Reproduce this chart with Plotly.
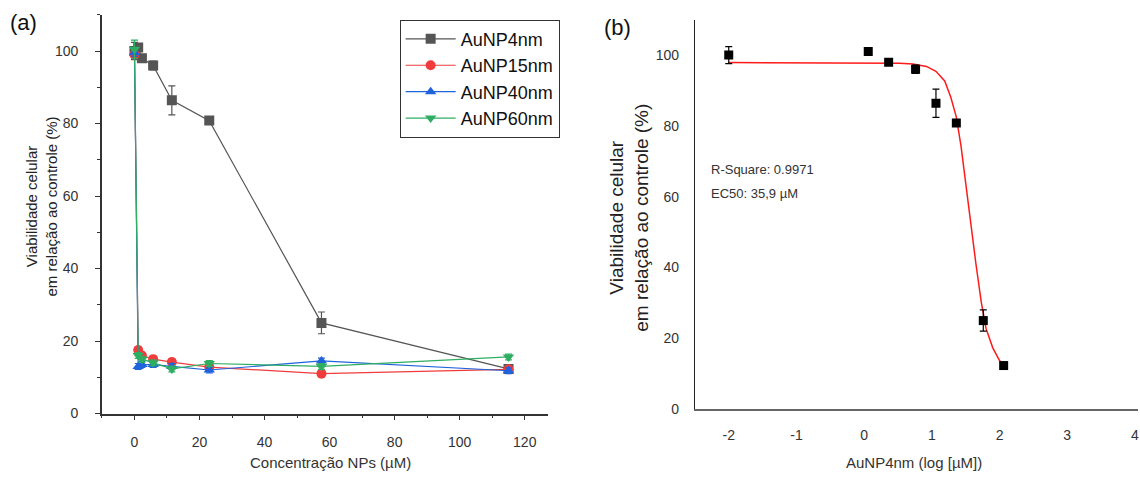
import plotly.graph_objects as go
import numpy as np

# ---------------- data ----------------
conc = [0.01, 1.15, 2.3, 5.75, 11.5, 23, 57.5, 115]          # µM
v4 = [100, 101, 98, 96, 86.4, 80.8, 25, 12.3]
e4 = [2.4, 0.8, 0.8, 1.2, 4.0, 0.8, 3.0, 0.8]
v15 = [99, 17.5, 16, 15, 14.2, 12.8, 11, 12.2]
e15 = [1.0, 0.8, 0.8, 0.8, 0.8, 0.8, 0.8, 0.8]
v40 = [99.5, 13, 13.5, 13.5, 13, 12, 14.5, 11.8]
e40 = [1.0, 0.8, 0.8, 0.8, 0.8, 0.8, 0.8, 0.8]
v60 = [100.5, 16, 15, 14, 12.3, 13.8, 13, 15.6]
e60 = [2.5, 0.8, 0.8, 0.8, 0.8, 0.8, 0.8, 0.8]

series_names = ["AuNP4nm", "AuNP15nm", "AuNP40nm", "AuNP60nm"]

# fitted dose-response curve, x in log[µM]
fit_x = [-2.0, 0.3, 0.52, 0.72, 0.92, 1.06, 1.19, 1.28, 1.36, 1.43, 1.5, 1.58,
         1.65, 1.73, 1.8, 1.9, 2.0, 2.06]
fit_y = [97.9, 97.9, 97.7, 97.5, 96.8, 95.4, 92.7, 88.1, 82.6, 74.4, 63.3, 52.2,
         41.2, 30.2, 22.8, 17.3, 13.7, 12.4]

left_xticks = [0, 20, 40, 60, 80, 100, 120]
right_xticks = [-2, -1, 0, 1, 2, 3, 4]
right_xticklabels = ["-2", "-1", "0", "1", "2", "3", "4"]
yticks = [0, 20, 40, 60, 80, 100]

W, H = 1140, 482
TICKFONT = dict(family="Liberation Sans Narrow, Arial Narrow, Liberation Sans, Arial", size=14, color="#333333")
TXTFONT = "Liberation Sans, Arial"

fig = go.Figure()

styles = [
    dict(color="#555555", symbol="square"),
    dict(color="#f03c3c", symbol="circle"),
    dict(color="#1f63dc", symbol="triangle-up"),
    dict(color="#2fae62", symbol="triangle-down"),
]
vals = [v4, v15, v40, v60]
errs = [e4, e15, e40, e60]
for name, st, v, e in zip(series_names, styles, vals, errs):
    fig.add_trace(go.Scatter(
        x=conc, y=v, name=name, mode="lines+markers",
        line=dict(color=st["color"], width=1.2),
        marker=dict(color=st["color"], symbol=st["symbol"], size=10),
        error_y=dict(type="data", array=e, color=st["color"], thickness=1.2, width=3.5),
        xaxis="x", yaxis="y",
    ))

# right panel
fig.add_trace(go.Scatter(
    x=fit_x, y=fit_y, mode="lines", line=dict(color="#ff1a1a", width=1.5),
    showlegend=False, xaxis="x2", yaxis="y2",
))
fig.add_trace(go.Scatter(
    x=np.log10(conc), y=v4, mode="markers",
    marker=dict(color="black", symbol="square", size=9),
    error_y=dict(type="data", array=e4, color="black", thickness=1.2, width=3.5),
    showlegend=False, xaxis="x2", yaxis="y2",
))

def px_x(p):
    return p / W

def px_y(p):
    return 1 - p / H

def note(text, x, y, size, family=TXTFONT, color="#222", xanchor="center", angle=0):
    return dict(text=text, x=px_x(x), y=px_y(y), xref="paper", yref="paper",
                xanchor=xanchor, yanchor="middle", showarrow=False, textangle=angle,
                font=dict(family=family, size=size, color=color))

fig.update_layout(
    width=W, height=H,
    margin=dict(l=0, r=0, t=0, b=0),
    paper_bgcolor="white", plot_bgcolor="white",
    xaxis=dict(
        domain=[px_x(102), px_x(548)], range=[-10, 127],
        tickvals=left_xticks, ticks="outside", ticklen=5, tickcolor="#333",
        minor=dict(dtick=10, tick0=0, ticks="outside", ticklen=3, tickcolor="#333"),
        showline=True, linecolor="#333", linewidth=1.5, showgrid=False, zeroline=False,
        tickfont=TICKFONT, anchor="y", ticklabelstandoff=10,
    ),
    yaxis=dict(
        domain=[px_y(420.5), px_y(15)], range=[0, 110],
        tickvals=yticks, ticks="outside", ticklen=5, tickcolor="#333",
        minor=dict(dtick=10, tick0=0, ticks="outside", ticklen=3, tickcolor="#333"),
        showline=True, linecolor="#333", linewidth=1.5, showgrid=False, zeroline=False,
        tickfont=TICKFONT, anchor="x", ticklabelstandoff=14,
    ),
    xaxis2=dict(
        domain=[px_x(695.5), px_x(1139)], range=[-2.5, 4.045],
        tickvals=right_xticks, ticktext=right_xticklabels, ticks="",
        ticklabeloverflow="allow",
        showline=True, linecolor="#666", linewidth=2, showgrid=False, zeroline=False,
        tickfont=TICKFONT, anchor="y2", ticklabelstandoff=12,
    ),
    yaxis2=dict(
        domain=[px_y(416), px_y(20)], range=[0, 110],
        tickvals=yticks, ticks="",
        showline=True, linecolor="#222", linewidth=1.2, showgrid=False, zeroline=False,
        tickfont=TICKFONT, anchor="x2", ticklabelstandoff=12,
    ),
    legend=dict(
        x=px_x(400), y=px_y(20), xanchor="left", yanchor="top",
        bgcolor="white", bordercolor="#333", borderwidth=1,
        font=dict(family=TXTFONT, size=18, color="#111"),
        tracegroupgap=0, itemwidth=50,
    ),
    annotations=[
        note("(a)", 24, 23, 22, color="#111"),
        note("(b)", 618, 28, 22, color="#111"),
        note("Viabilidade celular<br>em relação ao controle (%)", 42, 210, 15, angle=-90),
        note("Viabilidade celular<br>em relação ao controle (%)", 630, 221, 19, angle=-90),
        note("Concentração NPs (µM)", 331, 470, 15,
             family="Liberation Sans Narrow, Arial Narrow, Liberation Sans", color="#333"),
        note("AuNP4nm (log [µM])", 915, 470, 15,
             family="Liberation Sans Narrow, Arial Narrow, Liberation Sans", color="#333"),
        note("R-Square: 0.9971", 710, 172, 13, color="#333", xanchor="left"),
        note("EC50: 35,9 µM", 710, 197, 13, color="#333", xanchor="left"),
    ],
)

fig.write_html("out.html")
